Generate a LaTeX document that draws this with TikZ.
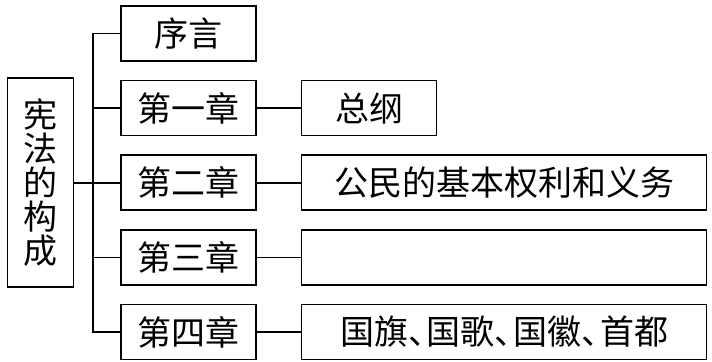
\documentclass[tikz,border=0pt]{standalone}
\usepackage{fontspec}
\newfontfamily\cjk{Noto Sans CJK SC}
\usepackage{tikz}
\usetikzlibrary{positioning,calc}
\newcommand\dunhao{\makebox[0.55em][l]{、}}

\begin{document}
\begin{tikzpicture}[
  node distance=9pt and 22pt,
  box/.style={draw,line width=0.8pt,minimum height=27.5pt,inner sep=0pt,font=\cjk\fontsize{17}{17}\selectfont},
  chap/.style={box,minimum width=67.5pt},
  wide/.style={box,minimum width=202.5pt},
  link/.style={line width=0.8pt}
]
\useasboundingbox (-94.25pt,-163.75pt) rectangle (261.75pt,16.75pt);
% chapters
\node[chap] (xy) {序言};
\node[chap,below=of xy] (c1) {第一章};
\node[chap,below=of c1] (c2) {第二章};
\node[chap,below=of c2] (c3) {第三章};
\node[chap,below=of c3] (c4) {第四章};
% contents
\node[chap,right=of c1] (zg) {总纲};
\node[wide,right=of c2] (gm) {公民的基本权利和义务};
\node[wide,right=of c3] (jg) {};
\node[wide,right=of c4] (gq) {国旗\dunhao 国歌\dunhao 国徽\dunhao 首都};
% root
\node[box,left=23pt of c2,minimum width=33pt,minimum height=104.5pt,align=center] (root) {宪\\法\\的\\构\\成};
\coordinate (tr) at ($(root.east)+(9.5pt,0)$);
\draw[link] (root) -- (c2);
\draw[link] (xy.west) -- (xy.west -| tr) -- (c4.west -| tr) -- (c4.west);
\draw[link] (c1.west) -- (c1.west -| tr);
\draw[link] (c3.west) -- (c3.west -| tr);
\draw[link] (c1) -- (zg); \draw[link] (c2) -- (gm);
\draw[link] (c3) -- (jg); \draw[link] (c4) -- (gq);
\end{tikzpicture}
\end{document}
